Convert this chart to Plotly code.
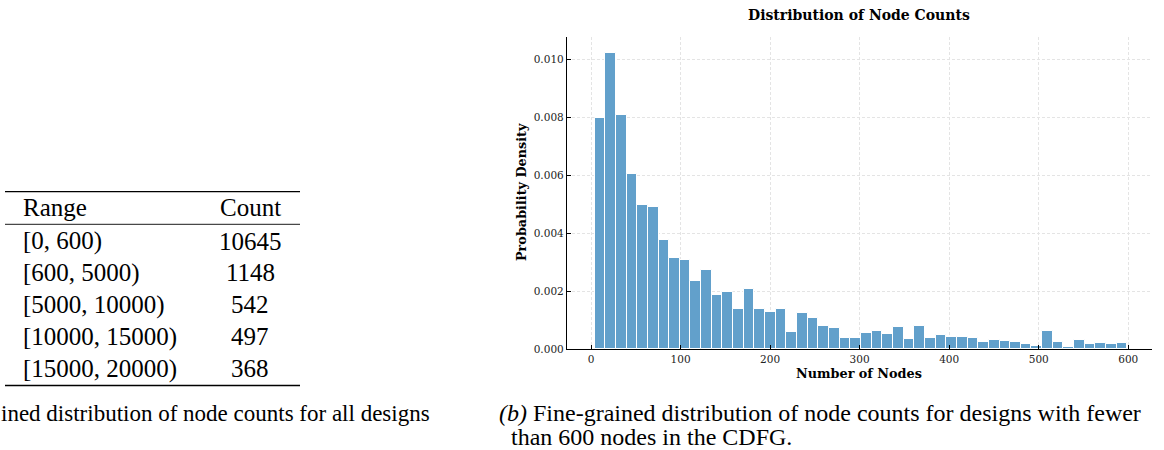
import plotly.graph_objects as go

# ---------------- data ----------------
bin_start = 4.0
bin_width = 11.9
density = [
    0.00798, 0.01023, 0.00808, 0.00605, 0.00499, 0.00492, 0.00378, 0.00315, 0.00309, 0.00234,
    0.00273, 0.00188, 0.00197, 0.00138, 0.00209, 0.00137, 0.00128, 0.00137, 0.00060, 0.00126,
    0.00108, 0.00079, 0.00074, 0.00039, 0.00039, 0.00055, 0.00062, 0.00052, 0.00077, 0.00036,
    0.00079, 0.00039, 0.00050, 0.00043, 0.00043, 0.00039, 0.00025, 0.00031, 0.00028, 0.00025,
    0.00018, 0.00012, 0.00063, 0.00024, 0.00008, 0.00031, 0.00018, 0.00021, 0.00016, 0.00021,
]
x_ticks = [0, 100, 200, 300, 400, 500, 600]
y_ticks = [0.000, 0.002, 0.004, 0.006, 0.008, 0.010]

table_header = ["Range", "Count"]
table_ranges = ["[0, 600)", "[600, 5000)", "[5000, 10000)", "[10000, 15000)", "[15000, 20000)"]
table_counts = ["10645", "1148", "542", "497", "368"]

caption_a = "ined distribution of node counts for all designs"
caption_b1 = "<i>(b)</i> Fine-grained distribution of node counts for designs with fewer"
caption_b2 = "than 600 nodes in the CDFG."

# ---------------- geometry ----------------
W, H = 1164, 450
L, R, T, B = 567, 1152, 37, 349


def px(xp):
    return (xp - L) / (R - L)


def py(yp):
    return (B - yp) / (B - T)


centers = [bin_start + bin_width * (i + 0.5) for i in range(len(density))]
bar_color = "#62a0cb"

fig = go.Figure()
fig.add_trace(go.Bar(
    x=centers, y=density, width=bin_width,
    marker=dict(color=bar_color, line=dict(color="white", width=1)),
    showlegend=False, hoverinfo="skip",
))

tick_font = dict(family="DejaVu Serif", size=10.5, color="#222")
grid = dict(showgrid=True, gridcolor="#e4e4e4", griddash="3px,2px", gridwidth=0.8)
fig.update_layout(
    width=W, height=H, autosize=False,
    margin=dict(l=L, r=W - R, t=T, b=H - B, pad=0),
    paper_bgcolor="white", plot_bgcolor="white",
    bargap=0,
    xaxis=dict(
        range=[-26.8, 626.5], tickvals=x_ticks, ticktext=[str(v) for v in x_ticks],
        zeroline=False, showline=True, linecolor="black", linewidth=1.3,
        ticks="inside", ticklen=4, tickcolor="black", tickwidth=1.2,
        tickfont=tick_font, mirror=False, **grid,
    ),
    yaxis=dict(
        range=[0, 0.010785], tickvals=y_ticks, ticktext=["%.3f" % v for v in y_ticks],
        zeroline=False, showline=True, linecolor="black", linewidth=1.3,
        ticks="inside", ticklen=4, tickcolor="black", tickwidth=1.2,
        tickfont=tick_font, mirror=False, **grid,
    ),
)

ann = []
title_font = dict(family="DejaVu Serif", size=14, color="black")
label_font = dict(family="DejaVu Serif", size=12.8, color="black")
ann.append(dict(text="<b>Distribution of Node Counts</b>", x=px(859), y=py(15),
                xref="paper", yref="paper", showarrow=False, font=title_font,
                xanchor="center", yanchor="middle"))
ann.append(dict(text="<b>Number of Nodes</b>", x=px(859), y=py(373),
                xref="paper", yref="paper", showarrow=False, font=label_font,
                xanchor="center", yanchor="middle"))
ann.append(dict(text="<b>Probability Density</b>", x=px(521), y=py(192),
                xref="paper", yref="paper", showarrow=False, font=label_font, textangle=-90,
                xanchor="center", yanchor="middle"))

SERIF = "'Liberation Serif', 'Times New Roman', Times, serif"

# ---------------- table ----------------
tfont = dict(family=SERIF, size=25, color="black")
ann.append(dict(text=table_header[0], x=px(21), y=py(207.5), xref="paper", yref="paper",
                showarrow=False, font=tfont, xanchor="left", yanchor="middle"))
ann.append(dict(text=table_header[1], x=px(250), y=py(207.5), xref="paper", yref="paper",
                showarrow=False, font=tfont, xanchor="center", yanchor="middle"))
row_y = [241, 272.5, 304.5, 336.5, 368.5]
for rname, cnt, yy in zip(table_ranges, table_counts, row_y):
    ann.append(dict(text=rname, x=px(21), y=py(yy), xref="paper", yref="paper",
                    showarrow=False, font=tfont, xanchor="left", yanchor="middle"))
    ann.append(dict(text=cnt, x=px(250), y=py(yy), xref="paper", yref="paper",
                    showarrow=False, font=tfont, xanchor="center", yanchor="middle"))

shapes = []
for yy, lw in [(191.7, 1.3), (224.3, 0.9), (385.5, 1.3)]:
    shapes.append(dict(type="line", xref="paper", yref="paper",
                       x0=px(5), x1=px(300), y0=py(yy), y1=py(yy),
                       line=dict(color="black", width=lw)))

# ---------------- captions ----------------
cfont_a = dict(family=SERIF, size=23, color="black")
cfont_b = dict(family=SERIF, size=24, color="black")
ann.append(dict(text=caption_a, x=px(-1), y=py(413), xref="paper", yref="paper",
                showarrow=False, font=cfont_a, xanchor="left", yanchor="middle"))
ann.append(dict(text=caption_b1, x=px(497), y=py(413), xref="paper", yref="paper",
                showarrow=False, font=cfont_b, xanchor="left", yanchor="middle"))
ann.append(dict(text=caption_b2, x=px(509), y=py(437), xref="paper", yref="paper",
                showarrow=False, font=cfont_b, xanchor="left", yanchor="middle"))

fig.update_layout(annotations=ann, shapes=shapes)
fig.write_html("out.html", config={"displayModeBar": False},
               post_script="document.body.style.margin='0';document.body.style.overflow='hidden';")
